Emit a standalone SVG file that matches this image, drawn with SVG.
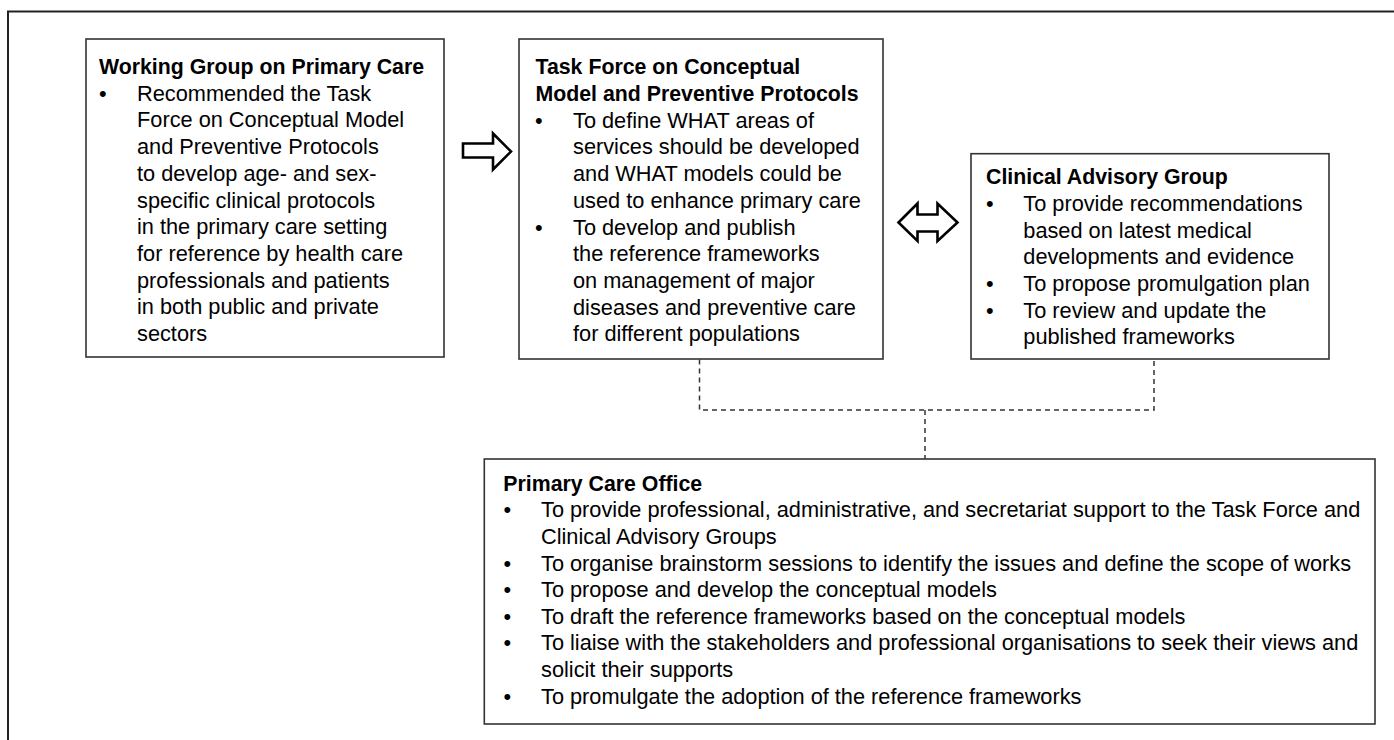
<svg xmlns="http://www.w3.org/2000/svg" width="1394" height="740" viewBox="0 0 1394 740">
<style>
text{font-family:"Liberation Sans",Arial,Helvetica,sans-serif;font-size:21.75px;fill:#000}
.t{font-weight:bold;font-size:21.3px}
.box{fill:#fff;stroke:#333;stroke-width:1.6}
.frame{fill:none;stroke:#222;stroke-width:2}
.arrow{fill:#fff;stroke:#000;stroke-width:2.6;stroke-linejoin:miter}
.dash{fill:none;stroke:#333;stroke-width:1.5;stroke-dasharray:5 4}
</style>
<rect width="1394" height="740" fill="#fff"/>
<path class="frame" d="M8 740 V11.5 H1394"/>
<g id="connectors">
<path class="dash" d="M699.5 359.5 V410 H1154 V359"/>
<path class="dash" d="M925 410 V459"/>
<path class="arrow" d="M463 143.5 H493 V133.5 L511 151.5 L493 169.5 V157.5 H463 Z"/>
<path class="arrow" d="M898.5 222.5 L917.5 203.5 V214.5 H937.5 V203.5 L957.5 222.5 L937.5 241 V231.5 H917.5 V241 Z"/>
</g>
<g id="working-group">
<rect class="box" x="86" y="39" width="358" height="318"/>
<text class="t" x="99" y="74">Working Group on Primary Care</text>
<text x="99" y="100.7">•</text>
<text x="137" y="100.7">Recommended the Task</text>
<text x="137" y="127.4">Force on Conceptual Model</text>
<text x="137" y="154.1">and Preventive Protocols</text>
<text x="137" y="180.8">to develop age- and sex-</text>
<text x="137" y="207.5">specific clinical protocols</text>
<text x="137" y="234.2">in the primary care setting</text>
<text x="137" y="260.9">for reference by health care</text>
<text x="137" y="287.6">professionals and patients</text>
<text x="137" y="314.3">in both public and private</text>
<text x="137" y="341">sectors</text>
</g>
<g id="task-force">
<rect class="box" x="519" y="39" width="364" height="320"/>
<text class="t" x="535.5" y="74.3">Task Force on Conceptual</text>
<text class="t" x="535.5" y="101">Model and Preventive Protocols</text>
<text x="535" y="127.7">•</text>
<text x="573" y="127.7">To define WHAT areas of</text>
<text x="573" y="154.4">services should be developed</text>
<text x="573" y="181.1">and WHAT models could be</text>
<text x="573" y="207.8">used to enhance primary care</text>
<text x="535" y="234.5">•</text>
<text x="573" y="234.5">To develop and publish</text>
<text x="573" y="261.2">the reference frameworks</text>
<text x="573" y="287.9">on management of major</text>
<text x="573" y="314.6">diseases and preventive care</text>
<text x="573" y="341.3">for different populations</text>
</g>
<g id="clinical-advisory">
<rect class="box" x="971" y="153.7" width="358" height="205.3"/>
<text class="t" x="986" y="184.3">Clinical Advisory Group</text>
<text x="986" y="211">•</text>
<text x="1023.3" y="211">To provide recommendations</text>
<text x="1023.3" y="237.7">based on latest medical</text>
<text x="1023.3" y="264.4">developments and evidence</text>
<text x="986" y="291">•</text>
<text x="1023.3" y="291">To propose promulgation plan</text>
<text x="986" y="317.7">•</text>
<text x="1023.3" y="317.7">To review and update the</text>
<text x="1023.3" y="344.4">published frameworks</text>
</g>
<g id="primary-care-office">
<rect class="box" x="484.3" y="459" width="890.7" height="265"/>
<text class="t" x="503.3" y="490.7">Primary Care Office</text>
<text x="503.5" y="517.4">•</text>
<text x="541" y="517.4">To provide professional, administrative, and secretariat support to the Task Force and</text>
<text x="541" y="544">Clinical Advisory Groups</text>
<text x="503.5" y="570.6">•</text>
<text x="541" y="570.6">To organise brainstorm sessions to identify the issues and define the scope of works</text>
<text x="503.5" y="597.2">•</text>
<text x="541" y="597.2">To propose and develop the conceptual models</text>
<text x="503.5" y="623.8">•</text>
<text x="541" y="623.8">To draft the reference frameworks based on the conceptual models</text>
<text x="503.5" y="650.4">•</text>
<text x="541" y="650.4">To liaise with the stakeholders and professional organisations to seek their views and</text>
<text x="541" y="677">solicit their supports</text>
<text x="503.5" y="703.6">•</text>
<text x="541" y="703.6">To promulgate the adoption of the reference frameworks</text>
</g>
</svg>
